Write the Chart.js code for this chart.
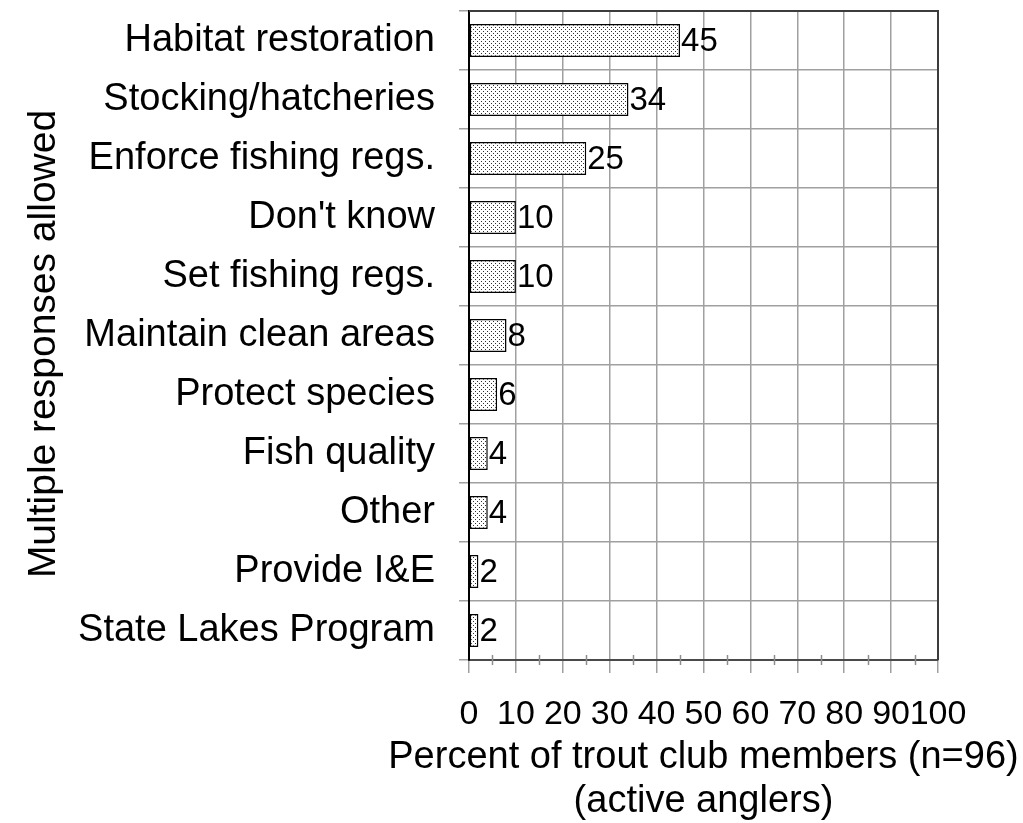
<!DOCTYPE html>
<html>
<head>
<meta charset="utf-8">
<script src="https://cdn.jsdelivr.net/npm/chart.js@4/dist/chart.umd.min.js"></script>
<style>
  html, body { margin: 0; padding: 0; background: #ffffff; }
  #wrap { width: 1023px; height: 823px; }
</style>
</head>
<body>
<div id="wrap"><canvas id="chart" width="1023" height="823"></canvas></div>
<script>
// Survey responses: what trout club members think the agency should do
const categories = [
  'Habitat restoration',
  'Stocking/hatcheries',
  'Enforce fishing regs.',
  "Don't know",
  'Set fishing regs.',
  'Maintain clean areas',
  'Protect species',
  'Fish quality',
  'Other',
  'Provide I&E',
  'State Lakes Program'
];
const percentValues = [45, 34, 25, 10, 10, 8, 6, 4, 4, 2, 2];
const xTickValues = [0, 10, 20, 30, 40, 50, 60, 70, 80, 90, 100];
const minorTickValues = [5, 15, 25, 35, 45, 55, 65, 75, 85, 95];
const xTitleLines = ['Percent of trout club members (n=96)', '(active anglers)'];
const yTitle = 'Multiple responses allowed';

const FONT = "'Liberation Sans', Arial, sans-serif";

// Stippled fill for the bars
function makeDotPattern() {
  const c = document.createElement('canvas');
  c.width = 4; c.height = 4;
  const g = c.getContext('2d');
  g.fillStyle = '#ffffff';
  g.fillRect(0, 0, 4, 4);
  g.fillStyle = '#303030';
  g.fillRect(1, 1, 1, 1);
  g.fillRect(3, 3, 1, 1);
  return g.createPattern(c, 'repeat');
}

// Frame on the top and right of the plot, plus minor ticks on the x axis
const framePlugin = {
  id: 'frame',
  afterDraw(chart) {
    const { ctx, chartArea: a, scales } = chart;
    ctx.save();
    ctx.strokeStyle = '#8c8c8c';
    ctx.lineWidth = 1.5;
    minorTickValues.forEach(v => {
      const x = Math.round(scales.x.getPixelForValue(v)) + 0.5;
      ctx.beginPath();
      ctx.moveTo(x, a.bottom - 5);
      ctx.lineTo(x, a.bottom + 5);
      ctx.stroke();
    });
    ctx.strokeStyle = '#3c3c3c';
    ctx.lineWidth = 2;
    ctx.beginPath();
    ctx.moveTo(a.left, a.top);
    ctx.lineTo(a.right, a.top);
    ctx.lineTo(a.right, a.bottom);
    ctx.stroke();
    ctx.restore();
  }
};

// Value printed just past the end of each bar
const valueLabelPlugin = {
  id: 'valueLabels',
  afterDatasetsDraw(chart) {
    const { ctx } = chart;
    const meta = chart.getDatasetMeta(0);
    ctx.save();
    ctx.font = '33px ' + FONT;
    ctx.fillStyle = '#000000';
    ctx.textAlign = 'left';
    ctx.textBaseline = 'middle';
    meta.data.forEach((bar, i) => {
      ctx.fillText(String(percentValues[i]), bar.x + 1, bar.y + 1);
    });
    ctx.restore();
  }
};

// Axis titles
const axisTitlePlugin = {
  id: 'axisTitles',
  afterDraw(chart) {
    const { ctx, chartArea: a } = chart;
    ctx.save();
    ctx.fillStyle = '#000000';
    ctx.font = '38px ' + FONT;
    ctx.textAlign = 'center';
    ctx.textBaseline = 'alphabetic';
    const cx = (a.left + a.right) / 2;
    ctx.fillText(xTitleLines[0], cx, 768);
    ctx.fillText(xTitleLines[1], cx, 812);

    ctx.font = '39px ' + FONT;
    ctx.translate(55, 344);
    ctx.rotate(-Math.PI / 2);
    ctx.fillText(yTitle, 0, 0);
    ctx.restore();
  }
};

new Chart(document.getElementById('chart'), {
  type: 'bar',
  data: {
    labels: categories,
    datasets: [{
      data: percentValues,
      backgroundColor: makeDotPattern(),
      borderColor: '#000000',
      borderWidth: 1.5,
      borderSkipped: false,
      barPercentage: 0.56,
      categoryPercentage: 1.0
    }]
  },
  options: {
    indexAxis: 'y',
    responsive: false,
    animation: false,
    events: [],
    layout: { padding: { left: 0, right: 85, top: 11, bottom: 0 } },
    plugins: {
      legend: { display: false },
      tooltip: { enabled: false },
      title: { display: false }
    },
    scales: {
      x: {
        type: 'linear',
        min: 0,
        max: 100,
        afterBuildTicks(scale) {
          scale.ticks = xTickValues.map(v => ({ value: v }));
        },
        afterFit(scale) {
          scale.height = 163;
          scale.paddingLeft = 0;
          scale.paddingRight = 0;
        },
        grid: {
          color: '#a0a0a0',
          lineWidth: 1.5,
          drawTicks: true,
          tickLength: 13,
          tickColor: '#a0a0a0'
        },
        border: { display: true, color: '#4a4a4a', width: 2 },
        ticks: {
          color: '#000000',
          font: { family: FONT, size: 34 },
          padding: 21,
          maxRotation: 0,
          autoSkip: false
        }
      },
      y: {
        type: 'category',
        afterFit(scale) {
          scale.width = 469;
          scale.paddingTop = 0;
          scale.paddingBottom = 0;
        },
        grid: {
          offset: true,
          color: '#a0a0a0',
          lineWidth: 1.5,
          drawTicks: true,
          tickLength: 10,
          tickColor: '#a0a0a0'
        },
        border: { display: true, color: '#000000', width: 2 },
        ticks: {
          color: '#000000',
          font: { family: FONT, size: 38 },
          padding: 24,
          autoSkip: false
        }
      }
    }
  },
  plugins: [framePlugin, valueLabelPlugin, axisTitlePlugin]
});
</script>
</body>
</html>
